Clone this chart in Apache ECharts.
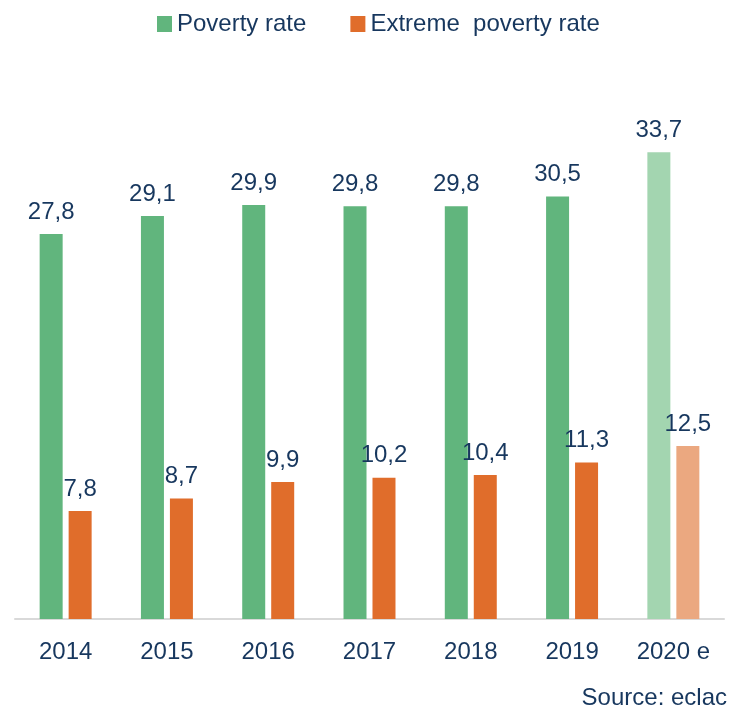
<!DOCTYPE html>
<html>
<head>
<meta charset="utf-8">
<script src="https://cdn.jsdelivr.net/npm/echarts@6/dist/echarts.min.js"></script>
<style>
  html, body { margin: 0; padding: 0; background: #fff; }
  #chart-container { width: 735px; height: 712px; }
</style>
</head>
<body>
<div id="chart-container"></div>
<script>
var years = ['2014', '2015', '2016', '2017', '2018', '2019', '2020 e'];
var povertyRate = [27.8, 29.1, 29.9, 29.8, 29.8, 30.5, 33.7];
var extremeRate = [7.8, 8.7, 9.9, 10.2, 10.4, 11.3, 12.5];

var textColor = '#17375e';
var font = "'Liberation Sans', Arial, sans-serif";

// the 2020 estimate is drawn in a paler shade
function withEstimate(values, color, paleColor) {
  return values.map(function (v, i) {
    return {
      value: v,
      itemStyle: { color: i === values.length - 1 ? paleColor : color }
    };
  });
}

var dom = document.getElementById('chart-container');
var myChart = echarts.init(dom, null, { renderer: 'canvas' });

var labelStyle = {
  show: true,
  position: 'top',
  distance: 10,
  color: textColor,
  fontSize: 24,
  fontFamily: font,
  formatter: function (p) {
    return p.value.toFixed(1).replace('.', ',');
  }
};

var option = {
  animation: false,
  legend: {
    top: 7,
    left: 152,
    itemWidth: 15,
    itemHeight: 16,
    itemGap: 44,
    icon: 'rect',
    textStyle: { color: textColor, fontSize: 24, fontFamily: font },
    data: [
      { name: 'Poverty rate', itemStyle: { color: '#61b57d' } },
      { name: 'Extreme  poverty rate', itemStyle: { color: '#e06d2b' } }
    ]
  },
  grid: { left: 15, right: 11, top: 65, bottom: 93 },
  xAxis: {
    type: 'category',
    data: years,
    axisTick: { show: false },
    axisLine: { lineStyle: { color: '#d9d9d9', width: 2 } },
    axisLabel: {
      interval: 0,
      color: textColor,
      fontSize: 24,
      fontFamily: font,
      margin: 21
    }
  },
  yAxis: {
    type: 'value',
    min: 0,
    max: 40,
    show: false,
    splitLine: { show: false }
  },
  series: [
    {
      name: 'Poverty rate',
      type: 'bar',
      barWidth: 23,
      barGap: '26%',
      itemStyle: { color: '#61b57d' },
      data: withEstimate(povertyRate, '#61b57d', '#a3d5b0'),
      label: labelStyle
    },
    {
      name: 'Extreme  poverty rate',
      type: 'bar',
      barWidth: 23,
      itemStyle: { color: '#e06d2b' },
      data: withEstimate(extremeRate, '#e06d2b', '#eba880'),
      label: labelStyle
    }
  ],
  graphic: [
    {
      type: 'text',
      right: 8,
      bottom: 2,
      style: {
        text: 'Source: eclac',
        fill: textColor,
        fontSize: 24,
        fontFamily: font
      }
    }
  ]
};

myChart.setOption(option);
window.addEventListener('resize', myChart.resize);
</script>
</body>
</html>
